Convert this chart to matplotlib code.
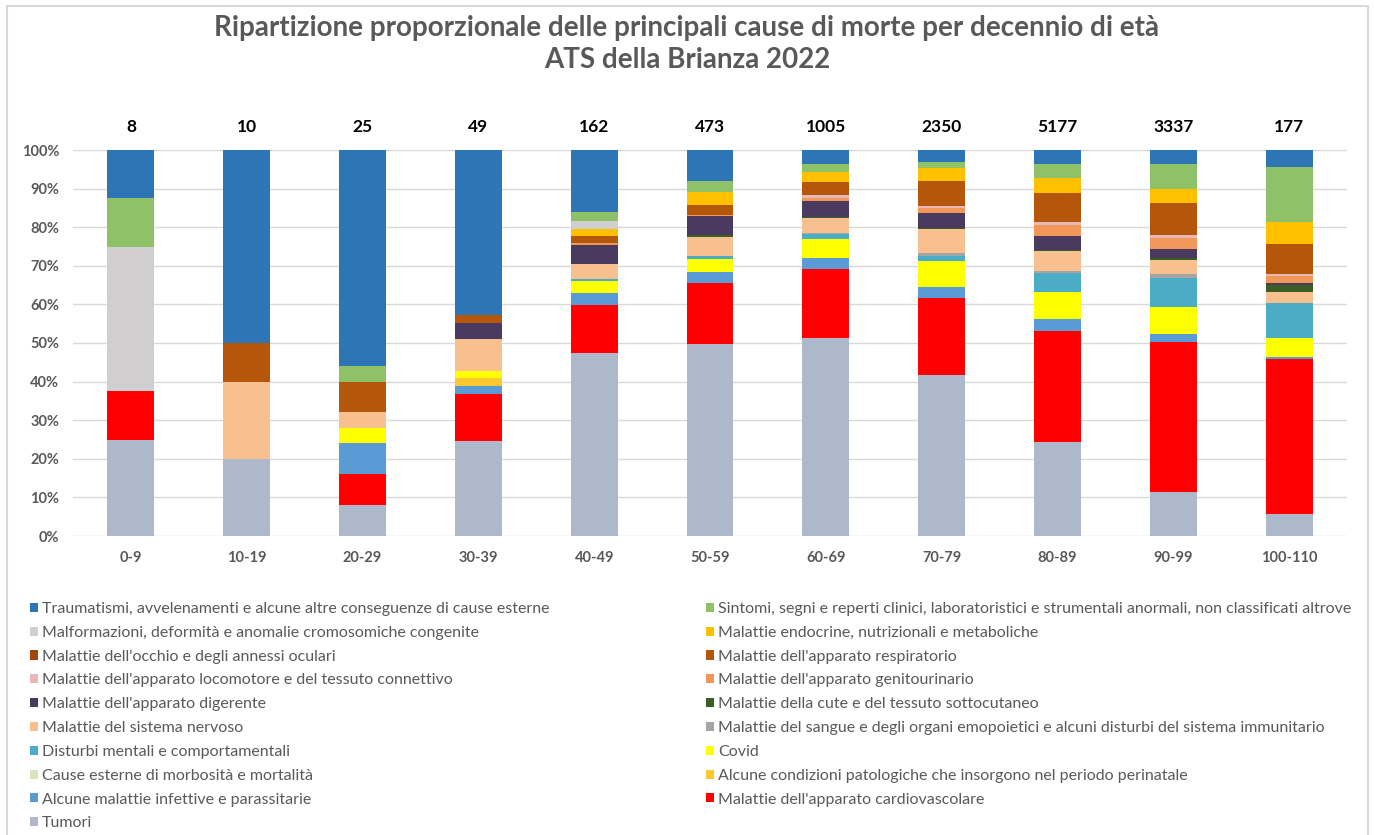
import numpy as np
import matplotlib
matplotlib.use('Agg')
import matplotlib.pyplot as plt
from matplotlib.patches import Rectangle

plt.rcParams['font.family'] = ['Lato', 'DejaVu Sans']

# age groups and number of deaths per group
ages = ['0-9', '10-19', '20-29', '30-39', '40-49', '50-59', '60-69', '70-79', '80-89', '90-99', '100-110']
totals = [8, 10, 25, 49, 162, 473, 1005, 2350, 5177, 3337, 177]

# deaths per cause, bottom of the stack first
tumori        = [2, 2, 2, 12, 77, 235, 516, 982, 1261, 383, 10]
cardio        = [1, 0, 2, 6, 20, 75, 178, 465, 1493, 1294, 71]
infettive     = [0, 0, 2, 1, 5, 14, 29, 69, 156, 72, 1]
perinatale    = [0, 0, 0, 1, 0, 0, 0, 0, 0, 0, 0]
cause_esterne = [0, 0, 0, 0, 0, 0, 0, 0, 0, 0, 0]
covid         = [0, 0, 1, 1, 5, 15, 51, 158, 362, 231, 9]
mentali       = [0, 0, 0, 0, 1, 4, 12, 33, 251, 253, 16]
sangue        = [0, 0, 0, 0, 0, 0, 3, 14, 31, 35, 0]
nervoso       = [0, 2, 1, 4, 6, 23, 40, 150, 273, 118, 5]
cute          = [0, 0, 0, 0, 0, 3, 1, 4, 14, 14, 3]
digerente     = [0, 0, 0, 2, 8, 23, 42, 94, 182, 78, 1]
genito        = [0, 0, 0, 0, 1, 1, 8, 28, 153, 101, 3]
locomotore    = [0, 0, 0, 0, 0, 0, 7, 14, 40, 20, 1]
respiratorio  = [0, 1, 2, 1, 3, 12, 35, 152, 389, 277, 14]
occhio        = [0, 0, 0, 0, 0, 0, 0, 0, 0, 0, 0]
endocrine     = [0, 0, 0, 0, 3, 17, 27, 77, 192, 121, 10]
malformazioni = [3, 0, 0, 0, 3, 0, 0, 0, 0, 0, 0]
sintomi       = [1, 0, 1, 0, 4, 13, 20, 39, 188, 222, 25]
traumatismi   = [1, 5, 14, 21, 26, 38, 36, 71, 192, 118, 8]

series = [
    ('Tumori', tumori, '#ADB9CA'),
    ("Malattie dell'apparato cardiovascolare", cardio, '#FF0000'),
    ('Alcune malattie infettive e parassitarie', infettive, '#5B9BD5'),
    ('Alcune condizioni patologiche che insorgono nel periodo perinatale', perinatale, '#FFC830'),
    ('Cause esterne di morbosità e mortalità', cause_esterne, '#D8E4BC'),
    ('Covid', covid, '#FFFF00'),
    ('Disturbi mentali e comportamentali', mentali, '#4BACC6'),
    ('Malattie del sangue e degli organi emopoietici e alcuni disturbi del sistema immunitario', sangue, '#A5A5A5'),
    ('Malattie del sistema nervoso', nervoso, '#F9C08F'),
    ('Malattie della cute e del tessuto sottocutaneo', cute, '#3A5F25'),
    ("Malattie dell'apparato digerente", digerente, '#4B3A60'),
    ("Malattie dell'apparato genitourinario", genito, '#F1975A'),
    ("Malattie dell'apparato locomotore e del tessuto connettivo", locomotore, '#E6B9B8'),
    ("Malattie dell'apparato respiratorio", respiratorio, '#B5570A'),
    ("Malattie dell'occhio e degli annessi oculari", occhio, '#9E480E'),
    ('Malattie endocrine, nutrizionali e metaboliche', endocrine, '#FFC000'),
    ('Malformazioni, deformità e anomalie cromosomiche congenite', malformazioni, '#D0CECE'),
    ('Sintomi, segni e reperti clinici, laboratoristici e strumentali anormali, non classificati altrove', sintomi, '#8FC169'),
    ('Traumatismi, avvelenamenti e alcune altre conseguenze di cause esterne', traumatismi, '#2E75B6'),
]

grey = '#595959'
W, H = 1374, 835
fig = plt.figure(figsize=(W / 100, H / 100), dpi=100)
ax = fig.add_axes([73 / W, 1 - 536 / H, (1347 - 73) / W, (536 - 150) / H])

x = np.arange(len(ages))
colsum = np.sum([s[1] for s in series], axis=0)
bottom = np.zeros(len(ages))
handles = []
for name, vals, col in series:
    frac = np.array(vals) / colsum
    b = ax.bar(x, frac, 0.405, bottom=bottom, color=col, label=name, linewidth=0)
    handles.append(b)
    bottom += frac

for i, t in enumerate(totals):
    ax.text(x[i], 1.06, str(t), ha='center', va='center', fontsize=12.5,
            fontweight='bold', color='black')

ax.set_xlim(-0.5, len(ages) - 0.5)
ax.set_ylim(0, 1)
ax.set_yticks(np.arange(0, 1.01, 0.1))
ax.set_yticklabels(['%d%%' % v for v in range(0, 101, 10)])
ax.set_xticks(x)
ax.set_xticklabels(ages)
ax.tick_params(length=0, colors=grey, labelsize=10.5)
ax.tick_params(axis='x', pad=11)
ax.tick_params(axis='y', pad=10)
for lab in ax.get_xticklabels() + ax.get_yticklabels():
    lab.set_fontweight('bold')
ax.grid(axis='y', color='#D9D9D9', linewidth=1)
ax.set_axisbelow(True)
for sp in ax.spines.values():
    sp.set_visible(False)

fig.text(0.5, 1 - 28 / H, 'Ripartizione proporzionale delle principali cause di morte per decennio di età',
         ha='center', va='center', fontsize=20, fontweight='bold', color=grey)
fig.text(0.5, 1 - 60 / H, 'ATS della Brianza 2022',
         ha='center', va='center', fontsize=20, fontweight='bold', color=grey)

# legend: two columns, read row by row (top of stack first)
rev = handles[::-1]
names = [s[0] for s in series][::-1]
kw = dict(frameon=False, fontsize=11.5, labelcolor=grey, handlelength=0.5, handleheight=0.5,
          handletextpad=0.25, labelspacing=0.615, borderpad=0, borderaxespad=0)
leg1 = fig.legend(rev[0::2], names[0::2], loc='upper left', bbox_to_anchor=(30 / W, 1 - 602 / H), **kw)
leg2 = fig.legend(rev[1::2], names[1::2], loc='upper left', bbox_to_anchor=(706 / W, 1 - 602 / H), **kw)

# chart area border
fig.patches.append(Rectangle((7 / W, -0.01), (1368 - 7) / W, 1 - 6 / H + 0.01, transform=fig.transFigure,
                             fill=False, edgecolor='#D9D9D9', linewidth=1.5))

fig.savefig('out.png', dpi=100)
